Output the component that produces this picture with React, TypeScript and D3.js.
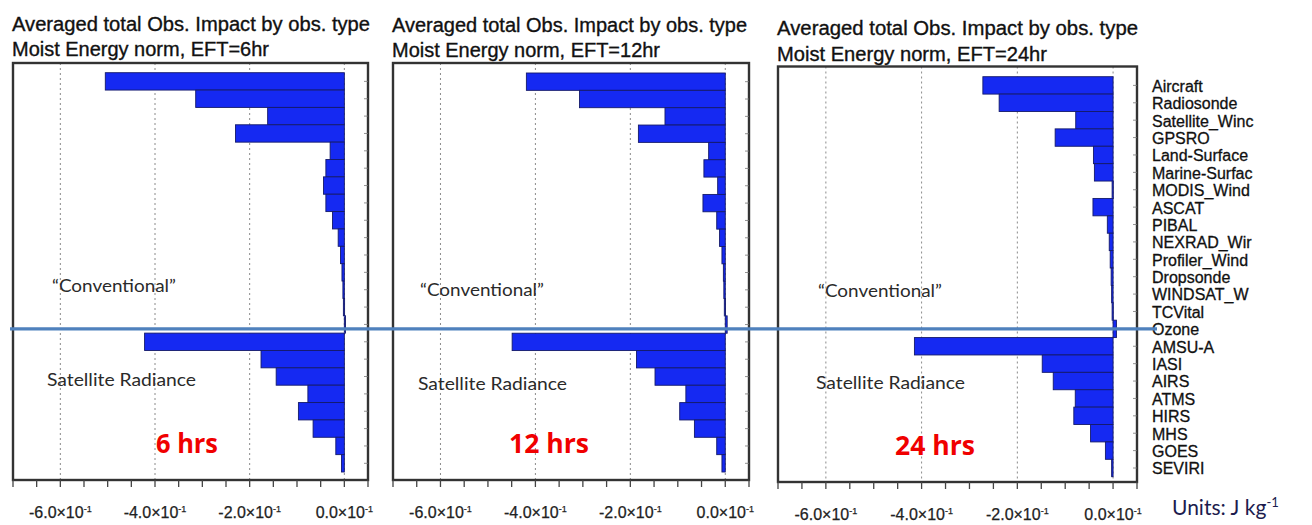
import React from 'react';
import * as d3 from 'd3';

const categories = [
  'Aircraft', 'Radiosonde', 'Satellite_Wind', 'GPSRO', 'Land-Surface', 'Marine-Surface',
  'MODIS_Wind', 'ASCAT', 'PIBAL', 'NEXRAD_Wind', 'Profiler_Wind', 'Dropsonde',
  'WINDSAT_Wind', 'TCVital', 'Ozone', 'AMSU-A', 'IASI', 'AIRS', 'ATMS', 'HIRS', 'MHS',
  'GOES', 'SEVIRI',
];
const categoryLabels = [
  'Aircraft', 'Radiosonde', 'Satellite_Winc', 'GPSRO', 'Land-Surface', 'Marine-Surfac',
  'MODIS_Wind', 'ASCAT', 'PIBAL', 'NEXRAD_Wir', 'Profiler_Wind', 'Dropsonde',
  'WINDSAT_W', 'TCVital', 'Ozone', 'AMSU-A', 'IASI', 'AIRS', 'ATMS', 'HIRS', 'MHS',
  'GOES', 'SEVIRI',
];
const impact6hr = [
  -0.505, -0.314, -0.162, -0.230, -0.030, -0.039, -0.044, -0.039, -0.025, -0.013, -0.008,
  -0.005, -0.003, -0.002, 0.002,
  -0.422, -0.176, -0.144, -0.077, -0.097, -0.066, -0.018, -0.006,
];
const impact12hr = [
  -0.419, -0.307, -0.127, -0.183, -0.035, -0.045, -0.016, -0.047, -0.018, -0.012, -0.007,
  -0.004, -0.003, -0.002, 0.004,
  -0.449, -0.187, -0.148, -0.083, -0.096, -0.065, -0.018, -0.007,
];
const impact24hr = [
  -0.272, -0.238, -0.078, -0.121, -0.041, -0.039, -0.002, -0.042, -0.012, -0.008, -0.006,
  -0.004, -0.003, -0.002, 0.007,
  -0.415, -0.148, -0.125, -0.079, -0.082, -0.047, -0.016, -0.003,
];
const xTicks = [-0.6, -0.4, -0.2, 0.0];
const xTickLabels = ['-6.0×10', '-4.0×10', '-2.0×10', '0.0×10'];
const eftLabels = ['6hr', '12hr', '24hr'];
const hourLabels = ['6 hrs', '12 hrs', '24 hrs'];
const seriesList = [impact6hr, impact12hr, impact24hr];

const xDomain: [number, number] = [-0.7, 0.05];

// layout of each panel (pixels)
const panels = [
  { x0: 13, x1: 368, y0: 63, y1: 480, b0: 72.7, b1: 472, t1: 31, t2: 56, tw1: 358, tw2: 257,
    convX: 52, convY: 292, satX: 47, satY: 386, hrX: 156, hrY: 453, hrW: 62, tickY: 518 },
  { x0: 393, x1: 749, y0: 63, y1: 480, b0: 73, b1: 472, t1: 32, t2: 57, tw1: 355, tw2: 268,
    convX: 420, convY: 296, satX: 418, satY: 390, hrX: 509, hrY: 453, hrW: 80, tickY: 518 },
  { x0: 778, x1: 1137, y0: 66.5, y1: 482, b0: 76.7, b1: 476.7, t1: 35, t2: 61, tw1: 361, tw2: 270,
    convX: 818, convY: 297, satX: 816, satY: 389, hrX: 895, hrY: 455, hrW: 80, tickY: 520 },
];

const minorTicks = d3.range(-0.7, 0.0501, 0.05);
const sans = 'Liberation Sans, Arial, sans-serif';

function Panel({ idx }: { idx: number }) {
  const p = panels[idx];
  const values = seriesList[idx];
  const x = d3.scaleLinear().domain(xDomain).range([p.x0, p.x1]);
  const y = d3.scaleBand<string>().domain(categories).range([p.b0, p.b1]).padding(0);
  return (
    <g>
      <text x={p.x0 - 1} y={p.t1} fontFamily={sans} fontSize={20} fill="#111" stroke="#111"
        strokeWidth={0.35} textLength={p.tw1} lengthAdjust="spacingAndGlyphs">
        Averaged total Obs. Impact by obs. type
      </text>
      <text x={p.x0 - 1} y={p.t2} fontFamily={sans} fontSize={20} fill="#111" stroke="#111"
        strokeWidth={0.35} textLength={p.tw2} lengthAdjust="spacingAndGlyphs">
        {`Moist Energy norm, EFT=${eftLabels[idx]}`}
      </text>
      {xTicks.map((t) => (
        <line key={'g' + t} x1={x(t)} x2={x(t)} y1={p.y0} y2={p.y1} stroke="#8a8a8a"
          strokeWidth={1} strokeDasharray="2 3" />
      ))}
      {categories.map((c, i) => {
        const v = values[i];
        const xa = x(Math.min(0, v));
        const xb = x(Math.max(0, v));
        return (
          <rect key={c} x={xa} y={y(c)} width={Math.max(1.2, xb - xa)} height={y.bandwidth()}
            fill="#1529f2" stroke="#141a6a" strokeWidth={0.9} />
        );
      })}
      <rect x={p.x0} y={p.y0} width={p.x1 - p.x0} height={p.y1 - p.y0} fill="none"
        stroke="#333" strokeWidth={2.4} />
      {minorTicks.map((t, i) => (
        <line key={'m' + i} x1={x(t)} x2={x(t)} y1={p.y1} y2={p.y1 + 7} stroke="#444" strokeWidth={1.3} />
      ))}
      {categories.map((c) => (
        <line key={'r' + c} x1={p.x1 - 4} x2={p.x1} y1={(y(c) as number) + y.bandwidth() / 2}
          y2={(y(c) as number) + y.bandwidth() / 2} stroke="#777" strokeWidth={0.8} />
      ))}
      {xTicks.map((t, i) => (
        <text key={'l' + t} x={x(t)} y={p.tickY} textAnchor="middle" fontSize={16}
          fontFamily={sans} fill="#222" stroke="#222" strokeWidth={0.25}>
          <tspan>{xTickLabels[i]}</tspan>
          <tspan dy={-6} fontSize={9}>-1</tspan>
        </text>
      ))}
      <text x={p.convX} y={p.convY} fontFamily="Lato, 'Open Sans', sans-serif" fontSize={18}
        fill="#2a2a2a" textLength={124} lengthAdjust="spacingAndGlyphs">
        “Conventional”
      </text>
      <text x={p.satX} y={p.satY} fontFamily="Lato, 'Open Sans', sans-serif" fontSize={18}
        fill="#2a2a2a" textLength={149} lengthAdjust="spacingAndGlyphs">
        Satellite Radiance
      </text>
      <text x={p.hrX} y={p.hrY} fontFamily="'Open Sans', Lato, sans-serif" fontWeight="bold"
        fontSize={26} fill="#f00000" textLength={p.hrW} lengthAdjust="spacingAndGlyphs">
        {hourLabels[idx]}
      </text>
    </g>
  );
}

export default function App() {
  const p3 = panels[2];
  const y3 = d3.scaleBand<string>().domain(categories).range([p3.b0, p3.b1]).padding(0);
  const ozoneY = (y3('Ozone') as number) + y3.bandwidth() / 2;
  return (
    <svg width={1312} height={525} style={{ position: 'absolute', left: 0, top: 0, background: '#fff' }}>
      <rect x={0} y={0} width={1312} height={525} fill="#fff" />
      {[0, 1, 2].map((i) => <Panel key={i} idx={i} />)}
      {categories.map((c, i) => (
        <text key={c} x={1152} y={(y3(c) as number) + y3.bandwidth() / 2} dy="0.4em"
          fontFamily={sans} fontSize={16} fill="#111" stroke="#111" strokeWidth={0.3}>
          {categoryLabels[i]}
        </text>
      ))}
      <line x1={10} x2={1157} y1={ozoneY} y2={ozoneY} stroke="#4f81bd" strokeWidth={3.2} />
      <text x={1172} y={515} fontFamily="Lato, 'Open Sans', sans-serif" fontSize={21} fill="#1c1c4e">
        <tspan>Units: J kg</tspan>
        <tspan dy={-8} fontSize={13}>-1</tspan>
      </text>
    </svg>
  );
}
